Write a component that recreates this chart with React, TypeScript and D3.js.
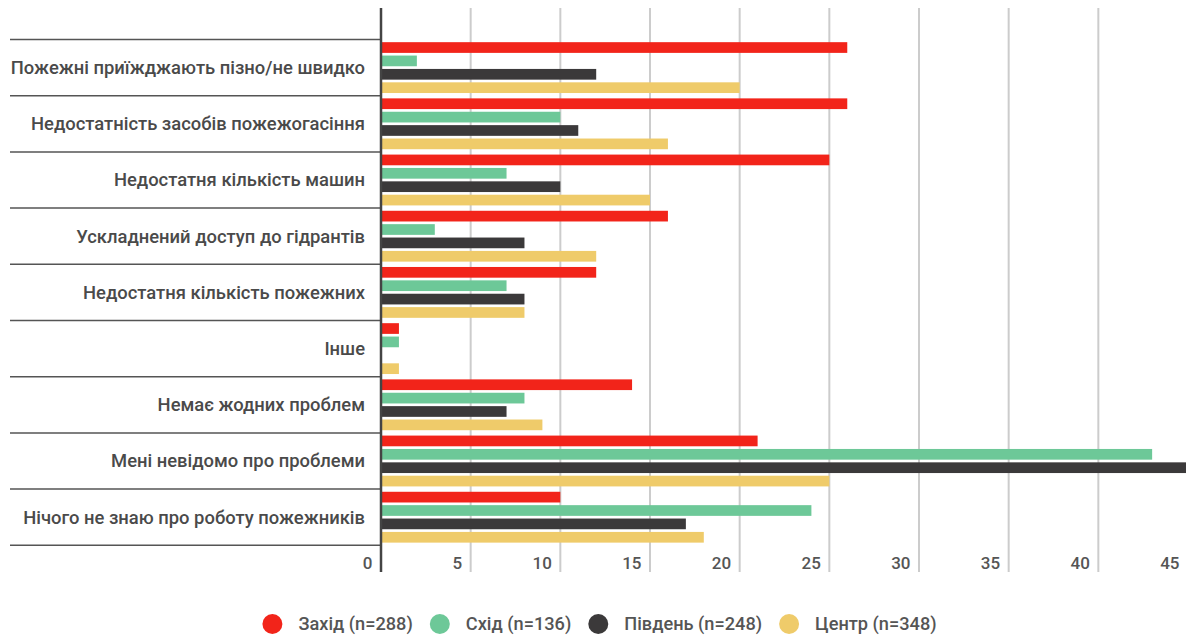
import React, { useEffect, useRef } from "react";
import * as d3 from "d3";

const categories = [
  "Пожежні приїжджають пізно/не швидко",
  "Недостатність засобів пожежогасіння",
  "Недостатня кількість машин",
  "Ускладнений доступ до гідрантів",
  "Недостатня кількість пожежних",
  "Інше",
  "Немає жодних проблем",
  "Мені невідомо про проблеми",
  "Нічого не знаю про роботу пожежників",
];

const seriesNames = ["Захід (n=288)", "Схід (n=136)", "Південь (n=248)", "Центр (n=348)"];
const seriesColors = ["#F2241A", "#6DC898", "#3B393A", "#EFCB6A"];

const zahid = [26, 26, 25, 16, 12, 1, 14, 21, 10];
const skhid = [2, 10, 7, 3, 7, 1, 8, 43, 24];
const pivden = [12, 11, 10, 8, 8, 0, 7, 45, 17];
const tsentr = [20, 16, 15, 12, 8, 1, 9, 25, 18];

const seriesValues = [zahid, skhid, pivden, tsentr];
const xTicks = [0, 5, 10, 15, 20, 25, 30, 35, 40, 45];

const W = 1186;
const H = 636;
const FONT = "Roboto, 'Noto Sans', sans-serif";

export default function App() {
  const ref = useRef<SVGSVGElement | null>(null);

  useEffect(() => {
    const svg = d3.select(ref.current);
    svg.selectAll("*").remove();

    const x0 = 381;
    const x1 = 1188;
    const top = 8;
    const bottom = 572;
    const bandTop = 39.5;
    const bandBottom = 545.3;

    const x = d3.scaleLinear().domain([0, 45]).range([x0, x1]);
    const y = d3.scaleBand<string>().domain(categories).range([bandTop, bandBottom]).paddingInner(0).paddingOuter(0);
    const yi = d3
      .scaleBand<number>()
      .domain(d3.range(seriesNames.length))
      .range([0, y.bandwidth()])
      .paddingInner(0.2)
      .paddingOuter(0.2);

    // gridlines
    svg
      .append("g")
      .selectAll("line")
      .data(xTicks.filter((t) => t > 0))
      .join("line")
      .attr("x1", (d) => x(d))
      .attr("x2", (d) => x(d))
      .attr("y1", top)
      .attr("y2", bottom)
      .attr("stroke", "#cccccc")
      .attr("stroke-width", 2);

    // category separators
    const bounds = categories.map((c) => y(c) as number).concat([bandBottom]);
    svg
      .append("g")
      .selectAll("line")
      .data(bounds)
      .join("line")
      .attr("x1", 10)
      .attr("x2", x0)
      .attr("y1", (d) => d)
      .attr("y2", (d) => d)
      .attr("stroke", "#555")
      .attr("stroke-width", 1.5);

    // bars
    const g = svg.append("g");
    categories.forEach((c, ci) => {
      seriesValues.forEach((vals, si) => {
        const v = vals[ci];
        if (v <= 0) return;
        g.append("rect")
          .attr("x", x(0) + 1)
          .attr("y", (y(c) as number) + (yi(si) as number))
          .attr("width", Math.max(0, x(v) - x(0) - 1))
          .attr("height", yi.bandwidth())
          .attr("fill", seriesColors[si]);
      });
    });

    // axis line
    svg
      .append("line")
      .attr("x1", x0)
      .attr("x2", x0)
      .attr("y1", top)
      .attr("y2", bottom)
      .attr("stroke", "#444")
      .attr("stroke-width", 2.5);

    // category labels
    svg
      .append("g")
      .selectAll("text")
      .data(categories)
      .join("text")
      .attr("x", 365)
      .attr("y", (d) => (y(d) as number) + y.bandwidth() / 2)
      .attr("dy", "0.35em")
      .attr("text-anchor", "end")
      .attr("font-family", FONT)
      .attr("font-size", 18.4)
      .attr("font-weight", 500)
      .attr("fill", "#4a4a4a")
      .text((d) => d);

    // tick labels
    svg
      .append("g")
      .selectAll("text")
      .data(xTicks)
      .join("text")
      .attr("x", (d) => x(d) - 8.5)
      .attr("y", 569)
      .attr("text-anchor", "end")
      .attr("font-family", FONT)
      .attr("font-size", 17)
      .attr("font-weight", 500)
      .attr("fill", "#555")
      .text((d) => String(d));

    // legend
    const lg = svg.append("g");
    const items = seriesNames.map((name, i) => {
      const it = lg.append("g");
      it.append("circle").attr("r", 10).attr("cx", 0).attr("cy", 624).attr("fill", seriesColors[i]);
      const t = it
        .append("text")
        .attr("x", 26)
        .attr("y", 630)
        .attr("font-family", FONT)
        .attr("font-size", 18.2)
        .attr("font-weight", 500)
        .attr("fill", "#555")
        .text(name);
      const w = (t.node() as SVGTextElement).getComputedTextLength();
      return { it, w };
    });
    let cx = 0;
    const positions: number[] = [];
    items.forEach(({ w }) => {
      positions.push(cx);
      cx += 26 + w + 27;
    });
    const totalStart = -10;
    const totalEnd = positions[positions.length - 1] + 26 + items[items.length - 1].w;
    const offset = 599.5 - (totalStart + totalEnd) / 2;
    items.forEach(({ it }, i) => it.attr("transform", `translate(${positions[i] + offset},0)`));
  }, []);

  return (
    <svg
      ref={ref}
      width={W}
      height={H}
      style={{ position: "absolute", left: 0, top: 0, background: "#fff" }}
    />
  );
}
